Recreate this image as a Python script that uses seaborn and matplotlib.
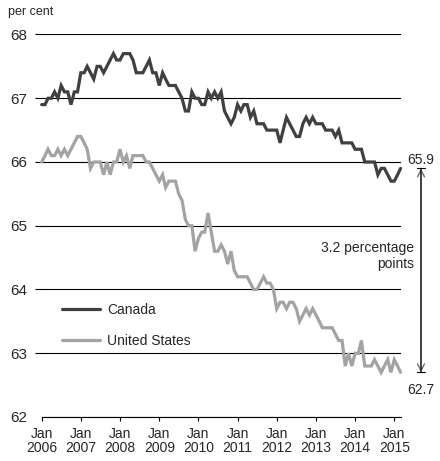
import matplotlib
matplotlib.use('Agg')
import matplotlib.pyplot as plt
import matplotlib.transforms as mtransforms
import numpy as np
import pandas as pd
import seaborn as sns

sns.set_style('white')
plt.rcParams['font.family'] = ['Liberation Sans', 'DejaVu Sans']

# ---------------- data ----------------
months = pd.date_range('2006-01-01', '2015-03-01', freq='MS')

canada = [
    66.9, 66.9, 67.0, 67.0, 67.1, 67.0, 67.2, 67.1, 67.1, 66.9, 67.1, 67.1,  # 2006
    67.4, 67.4, 67.5, 67.4, 67.3, 67.5, 67.5, 67.4, 67.5, 67.6, 67.7, 67.6,  # 2007
    67.6, 67.7, 67.7, 67.7, 67.6, 67.4, 67.4, 67.4, 67.5, 67.6, 67.4, 67.4,  # 2008
    67.2, 67.4, 67.3, 67.2, 67.2, 67.2, 67.1, 67.0, 66.8, 66.8, 67.1, 67.0,  # 2009
    67.0, 66.9, 66.9, 67.1, 67.0, 67.1, 67.0, 67.1, 66.8, 66.7, 66.6, 66.7,  # 2010
    66.9, 66.8, 66.9, 66.9, 66.7, 66.8, 66.6, 66.6, 66.6, 66.5, 66.5, 66.5,  # 2011
    66.5, 66.3, 66.5, 66.7, 66.6, 66.5, 66.4, 66.4, 66.6, 66.7, 66.6, 66.7,  # 2012
    66.6, 66.6, 66.6, 66.5, 66.5, 66.5, 66.4, 66.5, 66.3, 66.3, 66.3, 66.3,  # 2013
    66.2, 66.2, 66.2, 66.0, 66.0, 66.0, 66.0, 65.8, 65.9, 65.9, 65.8, 65.7,  # 2014
    65.7, 65.8, 65.9,                                                        # 2015
]

united_states = [
    66.0, 66.1, 66.2, 66.1, 66.1, 66.2, 66.1, 66.2, 66.1, 66.2, 66.3, 66.4,  # 2006
    66.4, 66.3, 66.2, 65.9, 66.0, 66.0, 66.0, 65.8, 66.0, 65.8, 66.0, 66.0,  # 2007
    66.2, 66.0, 66.1, 65.9, 66.1, 66.1, 66.1, 66.1, 66.0, 66.0, 65.9, 65.8,  # 2008
    65.7, 65.8, 65.6, 65.7, 65.7, 65.7, 65.5, 65.4, 65.1, 65.0, 65.0, 64.6,  # 2009
    64.8, 64.9, 64.9, 65.2, 64.9, 64.6, 64.6, 64.7, 64.6, 64.4, 64.6, 64.3,  # 2010
    64.2, 64.2, 64.2, 64.2, 64.1, 64.0, 64.0, 64.1, 64.2, 64.1, 64.1, 64.0,  # 2011
    63.7, 63.8, 63.8, 63.7, 63.8, 63.8, 63.7, 63.5, 63.6, 63.7, 63.6, 63.7,  # 2012
    63.6, 63.5, 63.4, 63.4, 63.4, 63.4, 63.3, 63.2, 63.2, 62.8, 63.0, 62.8,  # 2013
    63.0, 63.0, 63.2, 62.8, 62.8, 62.8, 62.9, 62.8, 62.7, 62.8, 62.9, 62.7,  # 2014
    62.9, 62.8, 62.7,                                                        # 2015
]

series_names = ['Canada', 'United States']
series_colors = ['#404040', '#a3a3a3']

year_ticks = pd.date_range('2006-01-01', '2015-01-01', freq='YS')
x_tick_labels = [f'Jan\n{d.year}' for d in year_ticks]
y_ticks = [62, 63, 64, 65, 66, 67, 68]

gap_top_label = '65.9'
gap_bottom_label = '62.7'
gap_top_value = 65.9
gap_bottom_value = 62.7
gap_text = '3.2 percentage\npoints'
unit_label = 'per cent'

df = pd.concat([
    pd.DataFrame({'date': months, 'value': canada, 'series': series_names[0]}),
    pd.DataFrame({'date': months, 'value': united_states, 'series': series_names[1]}),
], ignore_index=True)

# ---------------- figure ----------------
W, H = 440, 461
fig = plt.figure(figsize=(W / 100, H / 100), dpi=100)
ax_left, ax_right, ax_top, ax_bottom = 41.7, 400.6, 34.5, 417.0
ax = fig.add_axes([ax_left / W, 1 - ax_bottom / H,
                   (ax_right - ax_left) / W, (ax_bottom - ax_top) / H])

sns.lineplot(data=df, x='date', y='value', hue='series',
             palette=dict(zip(series_names, series_colors)),
             linewidth=2.3, ax=ax)
for ln in ax.get_lines():
    ln.set_clip_on(False)
    ln.set_solid_joinstyle('miter')

ax.set_xlim(months[0], months[-1])
ax.set_ylim(62, 68)
ax.set_xlabel('')
ax.set_ylabel('')

ax.set_yticks(y_ticks)
ax.set_yticklabels([str(v) for v in y_ticks])
ax.set_xticks(year_ticks)
ax.set_xticklabels(x_tick_labels)
for lab in ax.get_xticklabels():
    lab.set_linespacing(1.0)

ax.grid(axis='y', color='black', linewidth=0.8)
ax.grid(axis='x', visible=False)
for s in ['left', 'right', 'top']:
    ax.spines[s].set_visible(False)
ax.spines['bottom'].set_color('black')
ax.spines['bottom'].set_linewidth(0.8)

ax.tick_params(axis='y', length=4.8, width=0.8, color='black', pad=5.5,
               labelsize=11, left=True)
ax.yaxis.get_major_ticks()[0].tick1line.set_visible(False)
ax.tick_params(axis='x', direction='out', length=3, width=0.8, color='black',
               pad=4.5, labelsize=10, bottom=True)

# legend
handles, labels = ax.get_legend_handles_labels()
ax.legend(handles, labels, loc='upper left', bbox_to_anchor=(0.0566, 0.299),
          frameon=False, borderpad=0, borderaxespad=0, handlelength=2.7,
          handletextpad=0.55, labelspacing=1.25, fontsize=10)

# gap annotation
xa = (421 - ax_left) / (ax_right - ax_left)
trans = mtransforms.blended_transform_factory(ax.transAxes, ax.transData)
ax.annotate('', xy=(xa, gap_bottom_value), xytext=(xa, gap_top_value),
            xycoords=trans, textcoords=trans, annotation_clip=False,
            arrowprops=dict(arrowstyle='<->,head_length=0.5,head_width=0.25',
                            color='#6e6e6e', lw=1.0, shrinkA=0, shrinkB=0,
                            mutation_scale=10))
ax.annotate('', xy=(xa, gap_bottom_value), xytext=(xa, gap_top_value),
            xycoords=trans, textcoords=trans, annotation_clip=False,
            arrowprops=dict(arrowstyle='|-|,widthA=0.3,widthB=0.3',
                            color='black', lw=0.8, shrinkA=0, shrinkB=0,
                            mutation_scale=10))
ax.annotate(gap_top_label, xy=(xa, gap_top_value), xycoords=trans,
            xytext=(0, 3), textcoords='offset points', ha='center',
            va='baseline', fontsize=10, annotation_clip=False)
ax.annotate(gap_bottom_label, xy=(xa, gap_bottom_value), xycoords=trans,
            xytext=(0, -7.5), textcoords='offset points', ha='center',
            va='top', fontsize=10, annotation_clip=False)
xt = (414 - ax_left) / (ax_right - ax_left)
ax.text(xt, 64.53, gap_text, transform=trans, ha='right', va='center',
        multialignment='right', fontsize=10, linespacing=1.2)

fig.text(8 / W, 1 - 12 / H, unit_label, ha='left', va='center', fontsize=9)

fig.savefig('out.png', dpi=100)
